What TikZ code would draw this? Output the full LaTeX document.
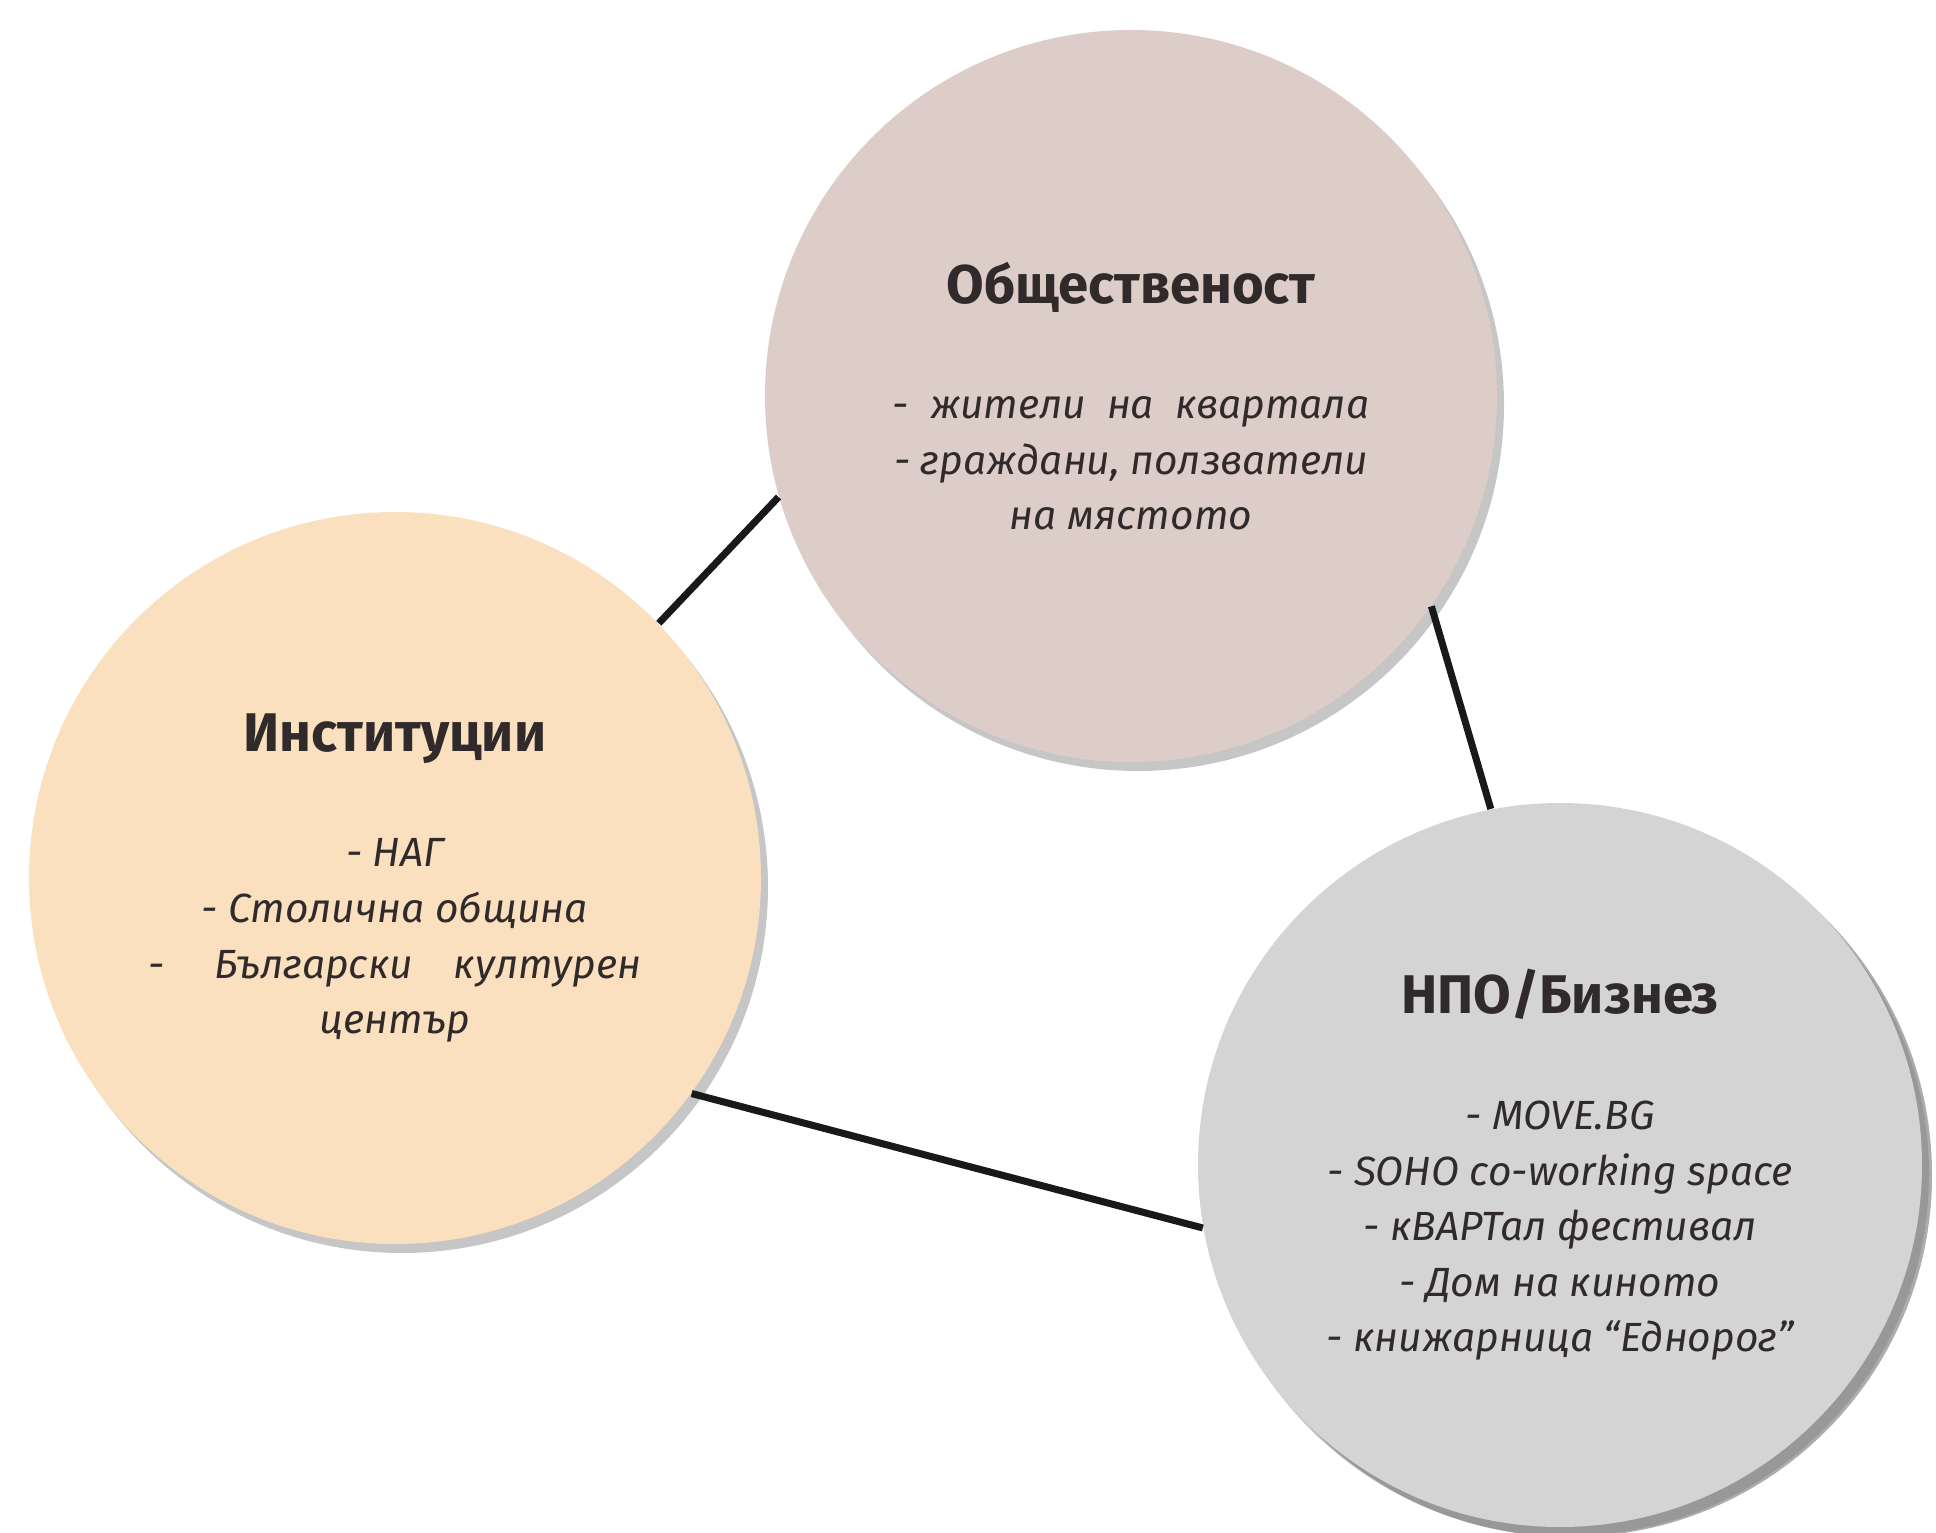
\documentclass[tikz,border=0pt]{standalone}
\usepackage{fontspec}
\setmainfont{Fira Sans}[Script=Cyrillic,Language=Bulgarian]
\usetikzlibrary{shadows}

\definecolor{pubfill}{RGB}{221,205,201}
\definecolor{instfill}{RGB}{251,224,192}
\definecolor{ngofill}{RGB}{212,212,212}
\definecolor{inkgray}{RGB}{48,42,42}

\newcommand{\grouphead}[1]{{\upshape\bfseries\fontsize{15.5}{18}\selectfont #1}}

\begin{document}
\begin{tikzpicture}[
    actor/.style={circle, minimum size=7.32cm, inner sep=0pt, align=center,
      text=inkgray, font=\fontsize{11.6}{15.8}\selectfont\itshape,
      drop shadow={shadow xshift=0.07cm, shadow yshift=-0.09cm, opacity=0.45}},
    link/.style={line width=2pt, black!90}
  ]
  \useasboundingbox (0,0) rectangle (19.36,15.32);

  \node [actor, fill=pubfill] (pub) at (11.31,11.36)
    {\grouphead{Общественост}\\[0.6cm]
     -\ \ жители\ \ на\ \ квартала\\
     - граждани, ползватели\\
     на мястото};
  \node [actor, fill=instfill] (inst) at (3.95,6.54)
    {\grouphead{Институции}\\[0.6cm]
     - НАГ\\
     - Столична община\\
     -\hspace{1.2em}Български\hspace{1em}културен\\
     център};
  \node [actor, fill=ngofill, minimum size=7.24cm,
         drop shadow={shadow xshift=0.1cm, shadow yshift=-0.1cm, opacity=0.65}] (ngo) at (15.60,3.67)
    {\grouphead{НПО/Бизнез}\\[0.6cm]
     - MOVE.BG\\
     - SOHO co-working space\\
     - кВАРТал фестивал\\
     - Дом на киното\\
     - книжарница “Еднорог”};

  \draw [link] (inst.44) -- (pub.196);
  \draw [link] (pub.-35) -- (ngo.101);
  \draw [link] (inst.-36) -- (ngo.190);
\end{tikzpicture}
\end{document}
